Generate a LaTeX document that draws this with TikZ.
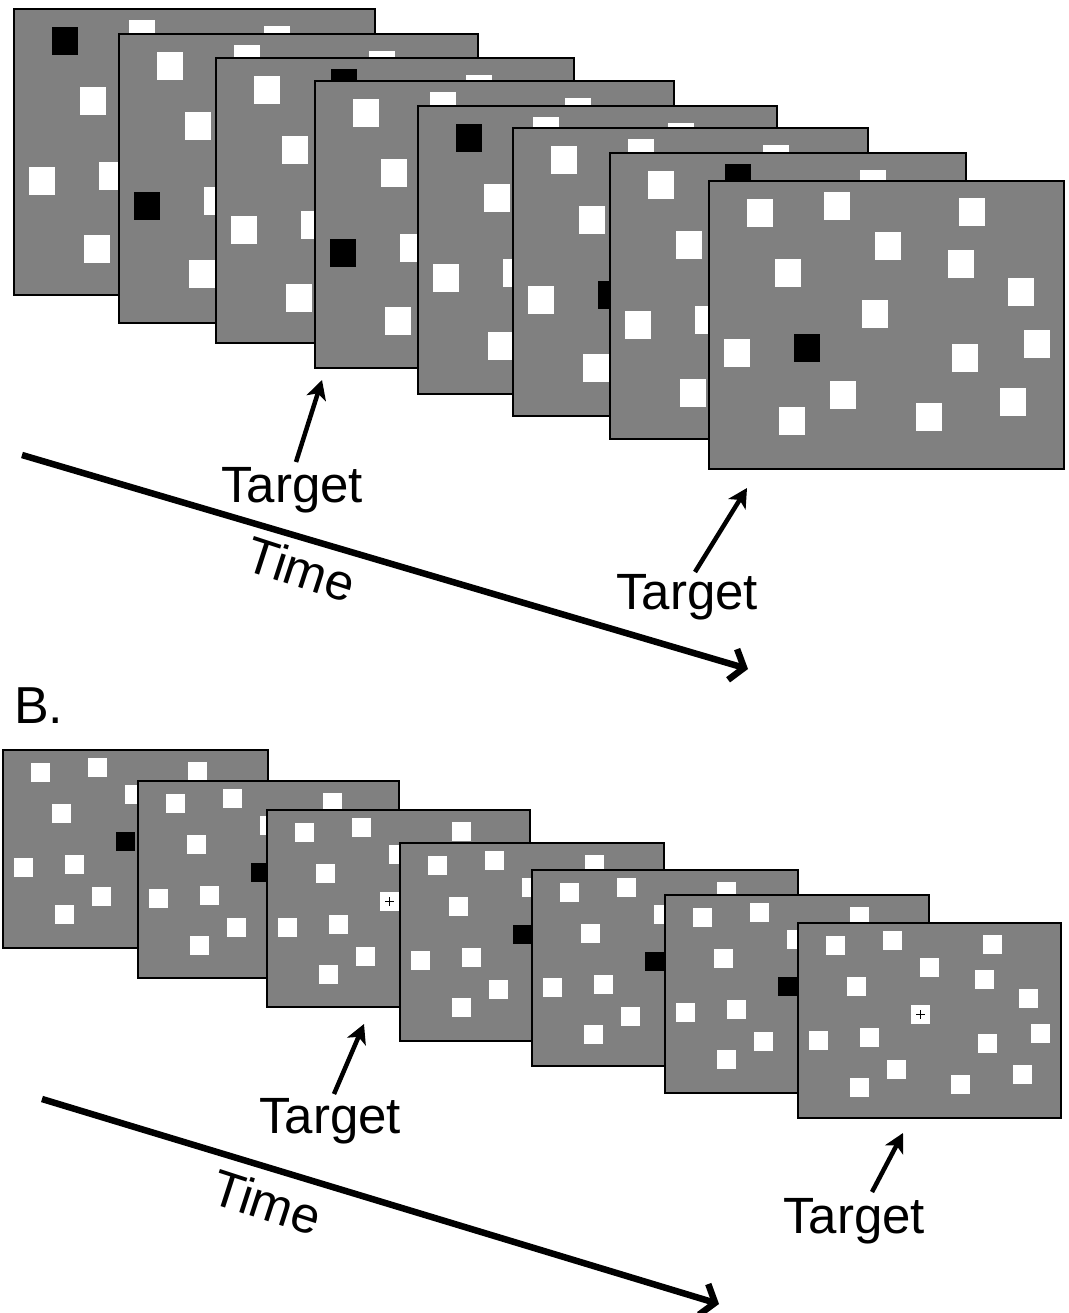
\documentclass[tikz,border=0pt]{standalone}
\usepackage{fontspec}
\setmainfont{Liberation Sans}
\usetikzlibrary{arrows.meta,calc}
\definecolor{panelgray}{RGB}{128,128,128}
\begin{document}
\begin{tikzpicture}[x=1pt,y=-1pt,
  panel/.style={draw=black, line width=1.8pt, fill=panelgray, rectangle, inner sep=0pt, outer sep=0pt, anchor=north west},
  lbl/.style={font=\fontsize{51}{51}\selectfont, inner sep=0pt, anchor=base},
  timearrow/.style={line width=6.5pt, -{Straight Barb[length=12pt,width=32pt]}},
  tgtarrow/.style={line width=4.5pt, -{Stealth[length=19pt,width=20pt,inset=5pt]}},
]
\useasboundingbox (0,0) rectangle (1068,1313);

% ---------- Part A: eight displays ----------
\foreach \pn/\pl/\pt/\pr/\pb/\pk in {A1/14/9/375/295/1, A2/119/34/478/323/9, A3/216/58/574/343/2, A4/315/81/674/368/9, A5/418/106/777/394/1, A6/513/128/868/416/10, A7/610/153/966/439/2, A8/709/181/1064/469/10}{
  \node[panel, minimum width={(\pr-\pl)*1pt}, minimum height={(\pb-\pt)*1pt}] (\pn) at (\pl,\pt) {};
  \foreach \si/\sx/\sy in {1/38/18, 2/115/11, 3/250/17, 4/166/51, 5/66/78, 6/239/69, 7/299/97, 8/153/119, 9/15/158, 10/85/153, 11/315/149, 12/243/163, 13/121/200, 14/291/207, 15/70/226, 16/207/222}{
    \ifnum\si=\pk\relax\def\sqcol{black}\else\def\sqcol{white}\fi
    \fill[\sqcol] ([shift={(\sx,\sy)}]\pn.north west) rectangle ++(26,28);
  }
}

% ---------- Part B: seven displays ----------
\foreach \pn/\pl/\pt/\pr/\pb/\pk in {B1/3/750/268/948/1, B2/138/781/399/978/1, B3/267/810/530/1007/2, B4/400/843/664/1041/1, B5/532/870/798/1066/1, B6/665/895/929/1093/1, B7/798/923/1061/1118/2}{
  \node[panel, minimum width={(\pr-\pl)*1pt}, minimum height={(\pb-\pt)*1pt}] (\pn) at (\pl,\pt) {};
  \foreach \si/\sx/\sy in {1/28/13, 2/85/8, 3/185/12, 4/122/35, 5/49/54, 6/177/47, 7/221/66, 8/113/82, 9/11/108, 10/62/105, 11/233/101, 12/180/111, 13/89/137, 14/215/142, 15/52/155, 16/153/152}{
    \ifnum\si=8\relax
      \ifnum\pk=1\relax
        \fill[black] ([shift={(\sx,\sy)}]\pn.north west) rectangle ++(19,19);
      \else
        \fill[white] ([shift={(\sx,\sy)}]\pn.north west) rectangle ++(19,19);
        \draw[black, line width=1.5pt] ([shift={(\sx+5,\sy+9.5)}]\pn.north west) -- ++(9,0);
        \draw[black, line width=1.5pt] ([shift={(\sx+9.5,\sy+5)}]\pn.north west) -- ++(0,9);
      \fi
    \else
      \fill[white] ([shift={(\sx,\sy)}]\pn.north west) rectangle ++(19,19);
    \fi
  }
}

% ---------- labels and arrows, part A ----------
\coordinate (tA0) at (22,455);
\coordinate (tA1) at (748,669);
\draw[timearrow] (tA0) -- (tA1);
\node[lbl, rotate=-18, anchor=center] (timeA) at (301,569) {Time};

\node[lbl] (tgtA1) at (292,502) {Target};
\coordinate (tgtA1tail) at (296,462);
\coordinate (tgtA1tip) at (322,380);
\draw[tgtarrow] (tgtA1tail) -- (tgtA1tip);

\node[lbl] (tgtA2) at (687,609) {Target};
\coordinate (tgtA2tail) at (695,572);
\coordinate (tgtA2tip) at (747,488);
\draw[tgtarrow] (tgtA2tail) -- (tgtA2tip);

% ---------- labels and arrows, part B ----------
\node[font=\fontsize{52}{52}\selectfont, inner sep=0pt, anchor=base west] (labelB) at (14,723) {B.};

\coordinate (tB0) at (42,1099);
\coordinate (tB1) at (719,1304);
\draw[timearrow] (tB0) -- (tB1);
\node[lbl, rotate=-18, anchor=center] (timeB) at (267,1202) {Time};

\node[lbl] (tgtB1) at (330,1133) {Target};
\coordinate (tgtB1tail) at (334,1094);
\coordinate (tgtB1tip) at (364,1024);
\draw[tgtarrow] (tgtB1tail) -- (tgtB1tip);

\node[lbl] (tgtB2) at (854,1233) {Target};
\coordinate (tgtB2tail) at (872,1192);
\coordinate (tgtB2tip) at (903,1133);
\draw[tgtarrow] (tgtB2tail) -- (tgtB2tip);
\end{tikzpicture}
\end{document}
